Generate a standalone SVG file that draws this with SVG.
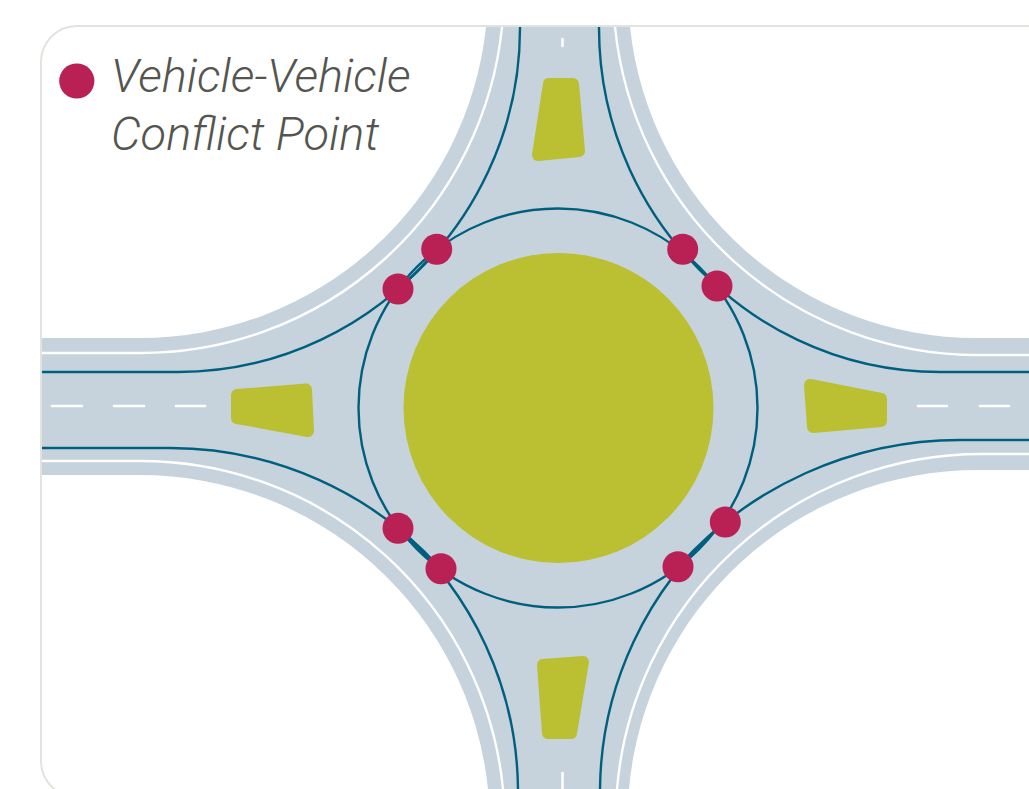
<svg xmlns="http://www.w3.org/2000/svg" width="1029" height="789" viewBox="0 0 1029 789">
<style>
.road{fill:#c6d3dc}
.white{fill:none;stroke:#fff;stroke-width:2.4}
.dash{fill:none;stroke:#fff;stroke-width:2.6;stroke-linecap:round}
.blue{fill:none;stroke:#005f7f;stroke-width:2.4}
.green{fill:#bbbf32;stroke:#bbbf32;stroke-width:12;stroke-linejoin:round}
.dot{fill:#b92053}
text{font-family:Roboto,"Liberation Sans",sans-serif;font-style:italic;font-weight:300;font-size:47px;fill:#555550}
</style>
<rect width="1029" height="789" fill="#fff"/>
<rect id="frame" x="41" y="26" width="1120" height="771" rx="36" ry="36" fill="#fff" stroke="#e3e3dd" stroke-width="2"/>
<path id="road" class="road" d="M42 338H140A348 348 0 0 0 486 27H630A348 348 0 0 0 978 338H1029V470H978A350 350 0 0 0 629 789H488A350 350 0 0 0 140 475H42Z"/>
<g id="markings">
<path class="white" d="M42 353H140A363 363 0 0 0 502 27"/>
<path class="white" d="M1029 355H978A365 365 0 0 1 615 27"/>
<path class="white" d="M42 461H140A364 364 0 0 1 503 789"/>
<path class="white" d="M1029 454H982A366 366 0 0 0 617 789"/>
<path class="dash" d="M52 406H82M114 406H144M176 406H205M918 406H947M980 406H1009M562.500 39V46M562.500 773V789"/>
</g>
<g id="connectors">
<circle class="blue" cx="558" cy="408" r="199.500"/>
<path class="blue" d="M520 27A340 340 0 0 1 398 289"/>
<path class="blue" d="M42 372H178A335 335 0 0 0 437 249"/>
<path class="blue" d="M599 27A341 341 0 0 0 717 286"/>
<path class="blue" d="M1029 372H940A332 332 0 0 1 682 249"/>
<path class="blue" d="M42 448H170A364 364 0 0 1 441 569"/>
<path class="blue" d="M518 789A352 352 0 0 0 398 528"/>
<path class="blue" d="M600 789A355 355 0 0 1 725 522"/>
<path class="blue" d="M1029 440H960A377 377 0 0 0 678 567"/>
</g>
<g id="central-island"><circle cx="558.500" cy="408" r="155" fill="#bbbf32"/></g>
<g id="island-top"><polygon class="green" points="549,84 573,84 579,151 538,155"/></g>
<g id="island-left"><polygon class="green" points="237,395 306,389.500 308,431 237,418"/></g>
<g id="island-right"><polygon class="green" points="810,385 881,399 881,421 813,427"/></g>
<g id="island-bottom"><polygon class="green" points="543,665 583,662 571,733 548,733"/></g>
<g id="conflict-points">
<circle class="dot" cx="436.700" cy="249.300" r="15.500"/>
<circle class="dot" cx="398" cy="289" r="15.500"/>
<circle class="dot" cx="682.700" cy="249.300" r="15.500"/>
<circle class="dot" cx="717" cy="286" r="15.500"/>
<circle class="dot" cx="398" cy="528.300" r="15.500"/>
<circle class="dot" cx="441" cy="568.700" r="15.500"/>
<circle class="dot" cx="725.300" cy="522" r="15.500"/>
<circle class="dot" cx="678" cy="566.700" r="15.500"/>
</g>
<g id="legend">
<circle class="dot" cx="76.800" cy="81" r="17.600"/>
<text x="111" y="92">Vehicle-Vehicle</text>
<text x="111" y="150">Conflict Point</text>
</g>
</svg>
